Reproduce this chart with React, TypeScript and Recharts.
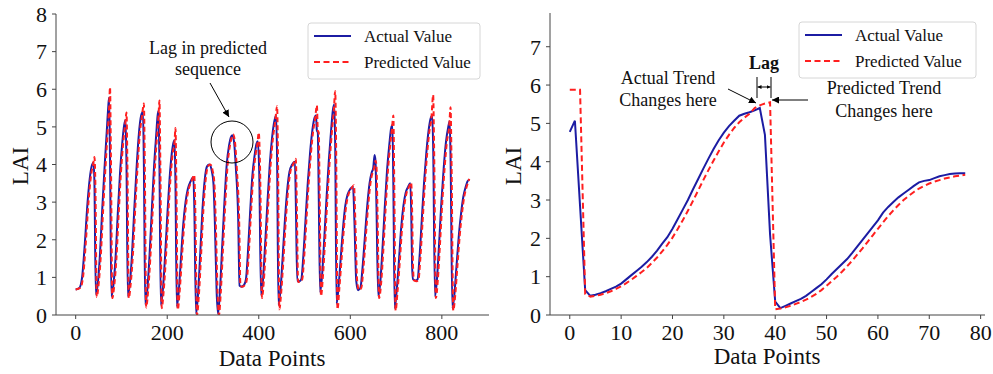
import { LineChart, Line, XAxis, YAxis } from 'recharts';

const FONT = '"Liberation Serif", "Times New Roman", serif';
const BLUE = '#1c1ca3';
const RED = '#ff1f1f';
const AXIS = '#444';

// left panel: full sequence (data point index, LAI)
const seqActual: [number, number][] = [
  [0, 0.68], [8, 0.72], [14, 1.0], [20, 1.9], [26, 3.0], [32, 3.75], [36, 4.0], [39, 4.05], [41, 3.5], [44, 0.55],
  [48, 0.8], [53, 1.6], [58, 2.8], [63, 3.9], [68, 4.9], [71, 5.5], [73, 5.78], [75, 4.2], [78, 0.5],
  [82, 0.75], [87, 1.5], [92, 2.7], [97, 3.8], [102, 4.6], [106, 5.05], [109, 5.18], [111, 4.0], [114, 0.5],
  [118, 0.8], [123, 1.6], [128, 2.8], [133, 3.9], [138, 4.8], [143, 5.3], [147, 5.4], [149, 4.0], [152, 0.27],
  [156, 0.6], [161, 1.5], [166, 2.7], [171, 3.9], [176, 4.8], [179, 5.3], [181, 5.42], [183, 4.0], [186, 0.27],
  [190, 0.6], [195, 1.5], [200, 2.6], [205, 3.6], [210, 4.3], [214, 4.6], [216, 4.65], [218, 3.5], [221, 0.22],
  [225, 0.6], [230, 1.5], [235, 2.4], [240, 3.0], [245, 3.35], [251, 3.55], [257, 3.66], [259, 3.0], [263, 0.03],
  [267, 0.5], [272, 1.6], [277, 2.8], [282, 3.6], [287, 3.95], [292, 4.0], [297, 3.85], [301, 3.5], [304, 2.5], [308, 0.6], [311, 0.03],
  [315, 0.6], [320, 1.8], [325, 3.0], [330, 4.0], [335, 4.5], [339, 4.72], [342, 4.78], [346, 4.6], [350, 3.9], [355, 2.6], [358, 0.78], [362, 0.75], [368, 0.8], [372, 0.95],
  [376, 1.6], [381, 2.7], [386, 3.7], [391, 4.25], [395, 4.55], [398, 4.62], [401, 3.8], [405, 0.53],
  [409, 0.9], [414, 1.9], [419, 3.0], [424, 4.0], [429, 4.7], [434, 5.15], [438, 5.3], [440, 4.2], [443, 0.27],
  [447, 0.6], [452, 1.5], [457, 2.5], [462, 3.3], [467, 3.8], [473, 4.0], [479, 4.07], [481, 3.0], [484, 0.9], [489, 0.9], [493, 0.95],
  [497, 1.5], [502, 2.5], [507, 3.5], [512, 4.3], [517, 4.9], [521, 5.2], [525, 5.3], [527, 4.9], [529, 4.85], [531, 3.2], [534, 0.6],
  [538, 1.0], [543, 2.0], [548, 3.1], [553, 4.1], [558, 4.9], [562, 5.45], [565, 5.6], [567, 4.5], [570, 0.3],
  [574, 0.7], [579, 1.5], [584, 2.3], [589, 2.9], [594, 3.2], [600, 3.35], [606, 3.4], [609, 2.5], [613, 0.9], [617, 0.66], [622, 0.72],
  [627, 1.3], [632, 2.1], [637, 2.9], [642, 3.5], [647, 3.8], [650, 3.9], [653, 4.25], [655, 4.1], [657, 3.0], [661, 0.5],
  [665, 0.8], [670, 1.7], [675, 2.8], [680, 3.8], [685, 4.5], [689, 4.95], [692, 5.05], [694, 3.5], [697, 0.18],
  [701, 0.6], [706, 1.4], [711, 2.3], [716, 2.9], [721, 3.25], [726, 3.4], [731, 3.5], [733, 2.8], [735, 1.3], [737, 0.95], [743, 0.92], [747, 0.95],
  [751, 1.5], [756, 2.5], [761, 3.5], [766, 4.3], [771, 4.9], [775, 5.2], [779, 5.3], [781, 4.5], [785, 0.5],
  [789, 0.9], [794, 1.9], [799, 3.0], [804, 3.9], [809, 4.6], [814, 5.0], [817, 5.15], [819, 4.2], [823, 0.17],
  [827, 0.5], [832, 1.3], [837, 2.1], [842, 2.7], [847, 3.15], [852, 3.4], [856, 3.55], [860, 3.6],
];

const seqPredicted: [number, number][] = [
  [0, 0.68], [10, 0.72], [16, 1.0], [22, 1.9], [28, 3.0], [34, 3.75], [38, 4.0], [41, 4.2], [43, 3.5], [46, 0.48],
  [50, 0.8], [55, 1.6], [60, 2.8], [65, 3.9], [70, 4.9], [73, 5.5], [75, 6.05], [77, 4.2], [80, 0.45],
  [84, 0.75], [89, 1.5], [94, 2.7], [99, 3.8], [104, 4.6], [108, 5.05], [111, 5.38], [113, 4.0], [116, 0.45],
  [120, 0.8], [125, 1.6], [130, 2.8], [135, 3.9], [140, 4.8], [145, 5.3], [149, 5.62], [151, 4.0], [154, 0.2],
  [158, 0.6], [163, 1.5], [168, 2.7], [173, 3.9], [178, 4.8], [181, 5.3], [183, 5.7], [185, 4.0], [188, 0.18],
  [192, 0.6], [197, 1.5], [202, 2.6], [207, 3.6], [212, 4.3], [216, 4.6], [218, 4.97], [220, 3.5], [223, 0.14],
  [227, 0.6], [232, 1.5], [237, 2.4], [242, 3.0], [247, 3.35], [253, 3.55], [259, 3.72], [261, 3.0], [265, 0.0],
  [269, 0.5], [274, 1.6], [279, 2.8], [284, 3.6], [289, 3.95], [294, 4.0], [299, 3.85], [303, 3.5], [306, 2.5], [310, 0.6], [313, 0.0],
  [317, 0.6], [322, 1.8], [327, 3.0], [332, 4.0], [337, 4.5], [341, 4.72], [344, 4.8], [348, 4.6], [352, 3.9], [357, 2.6], [360, 0.78], [364, 0.75], [370, 0.8], [374, 0.95],
  [378, 1.6], [383, 2.7], [388, 3.7], [393, 4.25], [397, 4.55], [400, 4.85], [403, 3.8], [407, 0.45],
  [411, 0.9], [416, 1.9], [421, 3.0], [426, 4.0], [431, 4.7], [436, 5.15], [440, 5.55], [442, 4.2], [445, 0.15],
  [449, 0.6], [454, 1.5], [459, 2.5], [464, 3.3], [469, 3.8], [475, 4.0], [481, 4.15], [483, 3.0], [486, 0.88], [491, 0.88], [495, 0.95],
  [499, 1.5], [504, 2.5], [509, 3.5], [514, 4.3], [519, 4.9], [523, 5.2], [527, 5.57], [529, 4.9], [531, 4.85], [533, 3.2], [536, 0.5],
  [540, 1.0], [545, 2.0], [550, 3.1], [555, 4.1], [560, 4.9], [564, 5.45], [567, 5.95], [569, 4.5], [572, 0.15],
  [576, 0.7], [581, 1.5], [586, 2.3], [591, 2.9], [596, 3.2], [602, 3.35], [608, 3.45], [611, 2.5], [615, 0.9], [619, 0.66], [624, 0.72],
  [629, 1.3], [634, 2.1], [639, 2.9], [644, 3.5], [649, 3.8], [652, 3.9], [655, 4.1], [657, 4.0], [659, 3.0], [663, 0.45],
  [667, 0.8], [672, 1.7], [677, 2.8], [682, 3.8], [687, 4.5], [691, 4.95], [694, 5.3], [696, 3.5], [699, 0.12],
  [703, 0.6], [708, 1.4], [713, 2.3], [718, 2.9], [723, 3.25], [728, 3.4], [733, 3.52], [735, 2.8], [737, 1.3], [739, 0.92], [745, 0.9], [749, 0.95],
  [753, 1.5], [758, 2.5], [763, 3.5], [768, 4.3], [773, 4.9], [777, 5.2], [781, 5.85], [783, 4.5], [787, 0.45],
  [791, 0.9], [796, 1.9], [801, 3.0], [806, 3.9], [811, 4.6], [816, 5.0], [819, 5.52], [821, 4.2], [825, 0.12],
  [829, 0.5], [834, 1.3], [839, 2.1], [844, 2.7], [849, 3.15], [854, 3.4], [858, 3.55], [860, 3.62],
];

// right panel: zoomed window, one value per data point 0..77
const zoomActual = [
  4.78, 5.07, 2.85, 0.65, 0.5, 0.53, 0.57, 0.62, 0.68, 0.74,
  0.82, 0.93, 1.04, 1.15, 1.26, 1.38, 1.52, 1.68, 1.86, 2.03,
  2.25, 2.5, 2.75, 3.0, 3.28, 3.55, 3.82, 4.08, 4.33, 4.56,
  4.76, 4.93, 5.07, 5.2, 5.25, 5.29, 5.34, 5.4, 4.7, 2.1,
  0.35, 0.18, 0.24, 0.3, 0.36, 0.42, 0.5, 0.6, 0.7, 0.8,
  0.93, 1.07, 1.2, 1.33, 1.46, 1.62, 1.79, 1.96, 2.13, 2.3,
  2.47, 2.67, 2.82, 2.95, 3.07, 3.17, 3.27, 3.37, 3.46, 3.5,
  3.52, 3.57, 3.62, 3.65, 3.68, 3.69, 3.7, 3.7,
];

const zoomPredicted = [
  5.88, 5.88, 5.88, 0.55, 0.48, 0.5, 0.53, 0.57, 0.62, 0.68,
  0.75, 0.83, 0.92, 1.02, 1.12, 1.23, 1.36, 1.5, 1.66, 1.83,
  2.02, 2.24, 2.47, 2.72, 2.98, 3.25, 3.52, 3.78, 4.03, 4.27,
  4.5, 4.7, 4.88, 5.03, 5.15, 5.25, 5.4, 5.47, 5.52, 5.55,
  0.15, 0.17, 0.2, 0.24, 0.29, 0.34, 0.4, 0.47, 0.55, 0.65,
  0.76, 0.88, 1.0, 1.13, 1.27, 1.42, 1.58, 1.74, 1.91, 2.08,
  2.25, 2.42, 2.58, 2.73, 2.87, 3.0, 3.11, 3.21, 3.3, 3.37,
  3.43, 3.48, 3.52, 3.56, 3.59, 3.62, 3.64, 3.66,
];

const seqXTicks = [0, 200, 400, 600, 800];
const seqYTicks = [0, 1, 2, 3, 4, 5, 6, 7, 8];
const zoomXTicks = [0, 10, 20, 30, 40, 50, 60, 70, 80];
const zoomYTicks = [0, 1, 2, 3, 4, 5, 6, 7];

const toPts = (p: [number, number][]) => p.map(([x, y]) => ({ x, y }));
const idxPts = (v: number[]) => v.map((y, x) => ({ x, y }));

interface PanelProps {
  left: number;
  width: number;
  yWidth: number;
  marginRight: number;
  marginTop: number;
  actual: { x: number; y: number }[];
  predicted: { x: number; y: number }[];
  xDomain: [number, number];
  yDomain: [number, number];
  xTicks: number[];
  yTicks: number[];
  curve: 'monotone' | 'linear';
  dash: string;
}

function Panel(p: PanelProps) {
  const tick = { fontSize: 22, fill: '#111', fontFamily: FONT, style: { fontFamily: FONT } };
  return (
    <div style={{ position: 'absolute', left: p.left, top: 0, fontFamily: FONT }}>
      <LineChart width={p.width} height={374} style={{ fontFamily: FONT }}
        margin={{ top: p.marginTop, right: p.marginRight, bottom: 0, left: 0 }}>
        <XAxis xAxisId="b" dataKey="x" type="number" domain={p.xDomain} ticks={p.xTicks} allowDataOverflow interval={0}
          height={59} tickSize={4} tickMargin={5} tick={tick} axisLine={{ stroke: AXIS }} tickLine={{ stroke: AXIS }} />
        <XAxis xAxisId="t" orientation="top" type="number" domain={p.xDomain} allowDataOverflow height={0}
          tick={false} tickLine={false} axisLine={{ stroke: AXIS }} />
        <YAxis yAxisId="l" type="number" domain={p.yDomain} ticks={p.yTicks} allowDataOverflow interval={0}
          width={p.yWidth} tickSize={4} tickMargin={5} tick={tick} axisLine={{ stroke: AXIS }} tickLine={{ stroke: AXIS }} />
        <YAxis yAxisId="r" orientation="right" type="number" domain={p.yDomain} allowDataOverflow width={0}
          tick={false} tickLine={false} axisLine={{ stroke: AXIS }} />
        <Line xAxisId="b" yAxisId="l" data={p.actual} dataKey="y" type={p.curve} stroke={BLUE} strokeWidth={2}
          dot={false} isAnimationActive={false} />
        <Line xAxisId="b" yAxisId="l" data={p.predicted} dataKey="y" type={p.curve} stroke={RED} strokeWidth={2}
          strokeDasharray={p.dash} dot={false} isAnimationActive={false} />
      </LineChart>
    </div>
  );
}

function Legend({ x, y, w }: { x: number; y: number; w: number }) {
  return (
    <g>
      <rect x={x} y={y} width={w} height={56} rx={3} fill="#fff" fillOpacity={0.85} stroke="#d6d6d6" />
      <line x1={x + 6} x2={x + 43} y1={y + 13} y2={y + 13} stroke={BLUE} strokeWidth={2} />
      <line x1={x + 6} x2={x + 43} y1={y + 39} y2={y + 39} stroke={RED} strokeWidth={2} strokeDasharray="6 3.5" />
      <text x={x + 56} y={y + 19} fontSize={17} fill="#111">Actual Value</text>
      <text x={x + 56} y={y + 45} fontSize={17} fill="#111">Predicted Value</text>
    </g>
  );
}

export default function App() {
  return (
    <div style={{ position: 'absolute', left: 0, top: 0, width: 993, height: 374, background: '#fff', overflow: 'hidden', fontFamily: FONT }}>
      <Panel left={0} width={500} yWidth={56} marginRight={11} marginTop={14}
        actual={toPts(seqActual)} predicted={toPts(seqPredicted)}
        xDomain={[-43, 903]} yDomain={[0, 8]} xTicks={seqXTicks} yTicks={seqYTicks} curve="monotone" dash="5 3" />
      <Panel left={500} width={493} yWidth={50} marginRight={8} marginTop={13}
        actual={idxPts(zoomActual)} predicted={idxPts(zoomPredicted)}
        xDomain={[-3.85, 80.85]} yDomain={[0, 7.88]} xTicks={zoomXTicks} yTicks={zoomYTicks} curve="linear" dash="6 3.5" />
      <svg width={993} height={374} style={{ position: 'absolute', left: 0, top: 0, pointerEvents: 'none', fontFamily: FONT }}>
        <defs>
          <marker id="ah" viewBox="0 0 10 10" refX="10" refY="5" markerWidth="7" markerHeight="7" orient="auto-start-reverse">
            <path d="M0,0 L10,5 L0,10 z" fill="#000" />
          </marker>
          <marker id="ahs" viewBox="0 0 10 10" refX="10" refY="5" markerWidth="4" markerHeight="4" orient="auto-start-reverse">
            <path d="M0,0 L10,5 L0,10 z" fill="#000" />
          </marker>
        </defs>
        {/* axis titles */}
        <text x={272} y={366} fontSize={23} textAnchor="middle" fill="#111">Data Points</text>
        <text x={28} y={166} fontSize={23} textAnchor="middle" fill="#111" transform="rotate(-90 28 166)">LAI</text>
        <text x={767} y={364} fontSize={23} textAnchor="middle" fill="#111">Data Points</text>
        <text x={521} y={166} fontSize={23} textAnchor="middle" fill="#111" transform="rotate(-90 521 166)">LAI</text>

        <Legend x={308} y={23} w={172} />
        <Legend x={799} y={22} w={177} />

        {/* left annotation */}
        <text x={208} y={54} fontSize={18} textAnchor="middle" fill="#111">Lag in predicted</text>
        <text x={208} y={75} fontSize={18} textAnchor="middle" fill="#111">sequence</text>
        <line x1={210} y1={83} x2={229} y2={117} stroke="#000" strokeWidth={1} markerEnd="url(#ah)" />
        <circle cx={232} cy={142} r={21} fill="none" stroke="#000" strokeWidth={1} />

        {/* right annotations */}
        <text x={764} y={69} fontSize={18} fontWeight="bold" textAnchor="middle" fill="#111">Lag</text>
        <line x1={757} y1={77} x2={757} y2={98} stroke="#000" strokeWidth={1} />
        <line x1={771} y1={77} x2={771} y2={98} stroke="#000" strokeWidth={1} />
        <line x1={757.5} y1={87} x2={770.5} y2={87} stroke="#000" strokeWidth={1} markerStart="url(#ahs)" markerEnd="url(#ahs)" />
        <text x={668} y={84} fontSize={18} textAnchor="middle" fill="#111">Actual Trend</text>
        <text x={668} y={106} fontSize={18} textAnchor="middle" fill="#111">Changes here</text>
        <line x1={728} y1={89} x2={756} y2={103} stroke="#000" strokeWidth={1} markerEnd="url(#ah)" />
        <text x={884} y={94} fontSize={18} textAnchor="middle" fill="#111">Predicted Trend</text>
        <text x={884} y={117} fontSize={18} textAnchor="middle" fill="#111">Changes here</text>
        <line x1={808} y1={100} x2={772} y2={100} stroke="#000" strokeWidth={1} markerEnd="url(#ah)" />
      </svg>
    </div>
  );
}
